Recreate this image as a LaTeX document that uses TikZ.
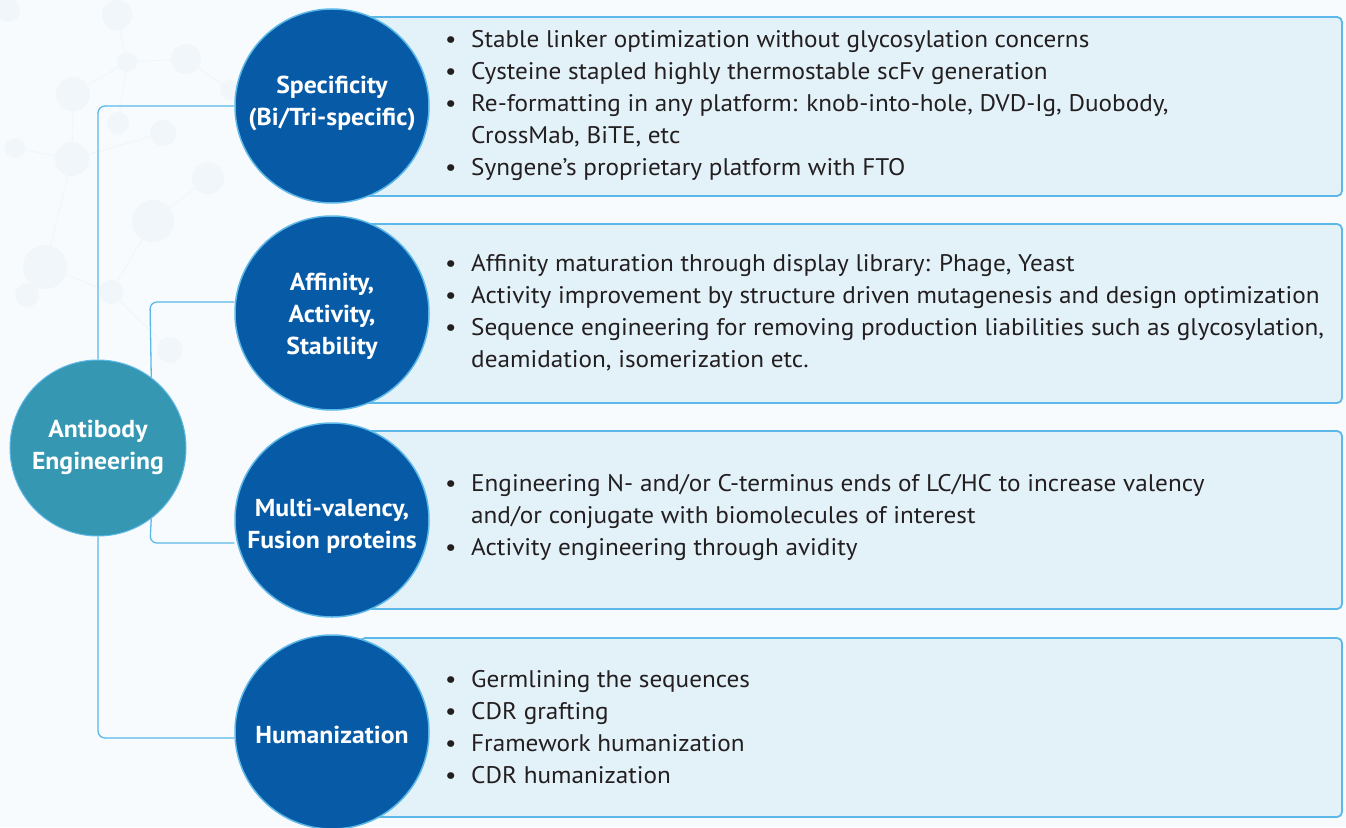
\documentclass[tikz,border=0pt]{standalone}
\usepackage{fontspec}
\setmainfont{PT Sans}[FakeStretch=1.05]
\usetikzlibrary{backgrounds}
\definecolor{pagebg}{HTML}{F8FBFD}
\definecolor{netc}{HTML}{F0F6F9}
\definecolor{teal}{HTML}{3597B2}
\definecolor{dblue}{HTML}{075AA5}
\definecolor{lblue}{HTML}{5BB8E8}
\definecolor{boxfill}{HTML}{E3F1F9}
\definecolor{txt}{HTML}{231F20}
\tikzset{
  bigcirc/.style={circle, fill=dblue, draw=lblue, line width=1.5pt, minimum size=194pt, inner sep=0pt},
  rootcirc/.style={circle, fill=teal, draw=lblue, line width=1pt, minimum size=176pt, inner sep=0pt},
  ctext/.style={text=white, align=center, font=\fontsize{24.5}{32}\selectfont\bfseries},
  infobox/.style={fill=boxfill, draw=lblue, line width=1.8pt, rounded corners=5pt},
  bodytext/.style={text=txt, inner sep=0pt, anchor=base west, font=\fontsize{24}{32}\selectfont},
  conn/.style={draw=lblue, line width=1.3pt, rounded corners=7pt},
  netdot/.style={fill=netc, draw=none},
  netline/.style={draw=netc, line width=1pt}
}
\newcommand{\blist}[1]{\begin{tabular}[t]{@{}p{26pt}@{}l@{}}#1\end{tabular}}
\begin{document}
\begin{tikzpicture}[x=1pt,y=-1pt]
\useasboundingbox (0,0) rectangle (1346,827);

% circles (main nodes)
\node[rootcirc] (ab) at (98,448) {};
\node[ctext] (abt) at (98,447) {Antibody\\Engineering};

\node[bigcirc] (c1) at (332,106) {};
\node[ctext] (c1t) at (332,103) {Specificity\\(Bi/Tri-specific)};
\node[bigcirc] (c2) at (332,313) {};
\node[ctext] (c2t) at (332,316) {Affinity,\\Activity,\\Stability};
\node[bigcirc] (c3) at (332,520) {};
\node[ctext] (c3t) at (332,526) {Multi-valency,\\Fusion proteins};
\node[bigcirc] (c4) at (332,732) {};
\node[ctext] (c4t) at (332,735) {Humanization};

\coordinate (j2) at (150,302);
\coordinate (j3) at (150,543);
\coordinate (j4) at (98,738);

\begin{scope}[on background layer]
  \fill[pagebg] (0,0) rectangle (1346,827);
  % faint molecular network
  \draw[netline] (117,15) -- (127,62) -- (186,59) -- (230,90);
  \draw[netline] (127,62) -- (73,94);
  \draw[netline] (127,62) -- (118,123);
  \draw[netline] (72,159) -- (163,133);
  \draw[netline] (15,148) -- (72,159) -- (45,267) -- (27,295);
  \draw[netline] (153,221) -- (208,178);
  \draw[netline] (153,221) -- (111,292) -- (170,350);
  \draw[netline] (45,267) -- (111,292);
  \draw[netline] (73,94) -- (72,159);
  \fill[netdot] (117,15) circle (15);
  \fill[netdot] (127,62) circle (10);
  \fill[netdot] (186,59) circle (15);
  \fill[netdot] (230,90) circle (10);
  \fill[netdot] (73,94) circle (17);
  \fill[netdot] (118,123) circle (11);
  \fill[netdot] (163,133) circle (13);
  \fill[netdot] (15,148) circle (10);
  \fill[netdot] (72,159) circle (17);
  \fill[netdot] (208,178) circle (16);
  \fill[netdot] (153,221) circle (21);
  \fill[netdot] (45,267) circle (22);
  \fill[netdot] (27,295) circle (12);
  \fill[netdot] (111,292) circle (12);
  \fill[netdot] (170,350) circle (13);
  \fill[netdot] (8,10) circle (12);

  % connectors
  \draw[conn] (ab.north) |- (c1.west);
  \draw[conn] (ab.53.8) -- (j2) -- (c2.west |- j2);
  \draw[conn] (ab.-53.8) -- (j3) -- (c3.west |- j3);
  \draw[conn] (ab.south) -- (j4) -- (c4.west |- j4);

  % boxes
  \path[infobox] (360,17) rectangle (1342,196);
  \path[infobox] (360,224) rectangle (1342,403);
  \path[infobox] (360,431) rectangle (1342,609);
  \path[infobox] (360,638) rectangle (1342,817);
\end{scope}

\node[bodytext] (t1) at (445,47) {\blist{%
• & Stable linker optimization without glycosylation concerns\\
• & Cysteine stapled highly thermostable scFv generation\\
• & Re-formatting in any platform: knob-into-hole, DVD-Ig, Duobody,\\
  & CrossMab, BiTE, etc\\
• & Syngene’s proprietary platform with FTO}};
\node[bodytext] (t2) at (445,271) {\blist{%
• & Affinity maturation through display library: Phage, Yeast\\
• & Activity improvement by structure driven mutagenesis and design optimization\\
• & Sequence engineering for removing production liabilities such as glycosylation,\\
  & deamidation, isomerization etc.}};
\node[bodytext] (t3) at (445,491) {\blist{%
• & Engineering N- and/or C-terminus ends of LC/HC to increase valency\\
  & and/or conjugate with biomolecules of interest\\
• & Activity engineering through avidity}};
\node[bodytext] (t4) at (445,687) {\blist{%
• & Germlining the sequences\\
• & CDR grafting\\
• & Framework humanization\\
• & CDR humanization}};
\end{tikzpicture}
\end{document}
